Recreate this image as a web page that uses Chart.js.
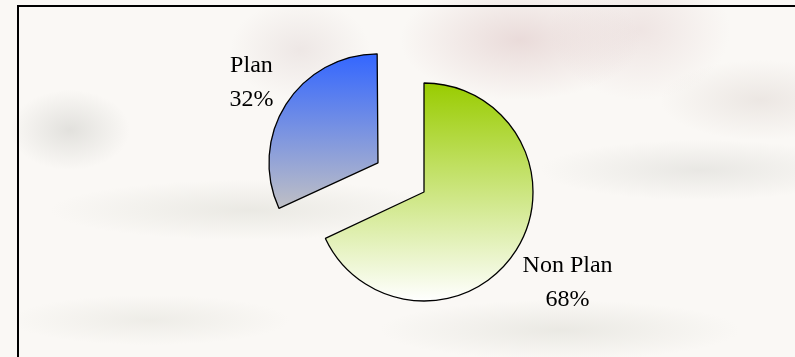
<!DOCTYPE html>
<html>
<head>
<meta charset="utf-8">
<script src="https://cdn.jsdelivr.net/npm/chart.js@4/dist/chart.umd.min.js"></script>
<style>
  html, body { margin: 0; padding: 0; }
  body {
    width: 795px; height: 357px; overflow: hidden; position: relative;
    background:
      radial-gradient(ellipse 120px 60px at 520px 40px, rgba(220,195,195,0.55), rgba(220,195,195,0) 100%),
      radial-gradient(ellipse 90px 70px at 640px 30px, rgba(225,205,205,0.45), rgba(225,205,205,0) 100%),
      radial-gradient(ellipse 70px 50px at 300px 50px, rgba(215,200,200,0.35), rgba(215,200,200,0) 100%),
      radial-gradient(ellipse 60px 40px at 70px 130px, rgba(190,190,185,0.4), rgba(190,190,185,0) 100%),
      radial-gradient(ellipse 160px 30px at 700px 170px, rgba(200,200,195,0.35), rgba(200,200,195,0) 100%),
      radial-gradient(ellipse 200px 30px at 250px 210px, rgba(205,205,195,0.35), rgba(205,205,195,0) 100%),
      radial-gradient(ellipse 180px 30px at 560px 330px, rgba(205,205,195,0.35), rgba(205,205,195,0) 100%),
      radial-gradient(ellipse 140px 25px at 150px 320px, rgba(210,210,200,0.3), rgba(210,210,200,0) 100%),
      radial-gradient(ellipse 100px 40px at 760px 100px, rgba(215,205,200,0.4), rgba(215,205,200,0) 100%),
      #faf8f5;
  }
  #frame {
    position: absolute; left: 17px; top: 5px; width: 800px; height: 400px;
    border-left: 2px solid #000; border-top: 2px solid #000;
    box-sizing: border-box;
  }
  #c { position: absolute; left: 0; top: 0; }
</style>
</head>
<body>
<div id="frame"></div>
<canvas id="c" width="795" height="357"></canvas>
<script>
// ---- data ----
const categories = ['Non Plan', 'Plan'];
const values = [68, 32];
const percentLabels = ['68%', '32%'];
const explode = [0, 218];           // Chart.js offset (px*4)
const topColors = ['#99CC00', '#3366FF'];
const bottomColors = ['#FFFFFF', '#C0C0C4'];

const RADIUS = 109;
const LABEL_R = 116;
const FONT = '24px "Liberation Serif", "Times New Roman", serif';
const LINE_H = 34;
const HALF_H = 30;

function sectorAngles(i) {
  const total = values.reduce((a, b) => a + b, 0);
  let start = -Math.PI / 2;
  for (let k = 0; k < i; k++) start += values[k] / total * Math.PI * 2;
  const end = start + values[i] / total * Math.PI * 2;
  return [start, end];
}
function sectorYExtent(i, cy, r) {
  const [s, e] = sectorAngles(i);
  let ys = [cy, cy + r * Math.sin(s), cy + r * Math.sin(e)];
  for (const a of [Math.PI / 2, -Math.PI / 2, 3 * Math.PI / 2]) {
    if (a >= s && a <= e) ys.push(cy + r * Math.sin(a));
  }
  return [Math.min(...ys), Math.max(...ys)];
}

function gradientFor(ctx) {
  const chart = ctx.chart;
  const area = chart.chartArea;
  const i = ctx.dataIndex;
  if (!area || i === undefined) return topColors[i || 0];
  const cy = (area.top + area.bottom) / 2;
  const [y0, y1] = sectorYExtent(i, cy, RADIUS);
  const g = chart.ctx.createLinearGradient(0, y0, 0, y1);
  g.addColorStop(0, topColors[i]);
  g.addColorStop(1, bottomColors[i]);
  return g;
}

const radiusFix = {
  id: 'radiusFix',
  afterDatasetUpdate(chart, args) {
    args.meta.data.forEach(arc => {
      const off = ((arc.options && arc.options.offset) || 0) / 4;
      const fix = 1 - Math.sin(Math.min(Math.PI, arc.circumference || 0));
      arc.outerRadius = Math.max(arc.outerRadius - off * fix, 0);
    });
  }
};

const outsideLabels = {
  id: 'outsideLabels',
  afterDatasetsDraw(chart) {
    const meta = chart.getDatasetMeta(0);
    const c = chart.ctx;
    c.save();
    c.font = FONT;
    c.fillStyle = '#000';
    c.textAlign = 'center';
    c.textBaseline = 'middle';
    meta.data.forEach((arc, i) => {
      const off = ((arc.options && arc.options.offset) || 0) / 4;
      const mid = (arc.startAngle + arc.endAngle) / 2;
      const ux = Math.cos(mid), uy = Math.sin(mid);
      const cx = arc.x + ux * off;
      const cy = arc.y + uy * off;
      const lines = [categories[i], percentLabels[i]];
      const hw = Math.max(...lines.map(t => c.measureText(t).width)) / 2;
      // vector from label-box centre to its corner nearest the pie centre
      const sx = ux < 0 ? hw : -hw;
      const sy = uy < 0 ? HALF_H : -HALF_H;
      const us = ux * sx + uy * sy;
      const d = -us + Math.sqrt(us * us - (sx * sx + sy * sy) + LABEL_R * LABEL_R);
      const bx = cx + ux * d;
      const by = cy + uy * d;
      lines.forEach((t, k) => {
        c.fillText(t, bx, by + (k - 0.5) * LINE_H);
      });
    });
    c.restore();
  }
};

new Chart(document.getElementById('c'), {
  type: 'pie',
  data: {
    labels: categories,
    datasets: [{
      data: values,
      backgroundColor: gradientFor,
      borderColor: '#000000',
      borderWidth: 1.3,
      offset: explode,
      radius: RADIUS
    }]
  },
  options: {
    responsive: false,
    animation: false,
    layout: { padding: { left: 53, top: 27, right: 0, bottom: 0 } },
    plugins: {
      legend: { display: false },
      tooltip: { enabled: false }
    }
  },
  plugins: [radiusFix, outsideLabels]
});
</script>
</body>
</html>
